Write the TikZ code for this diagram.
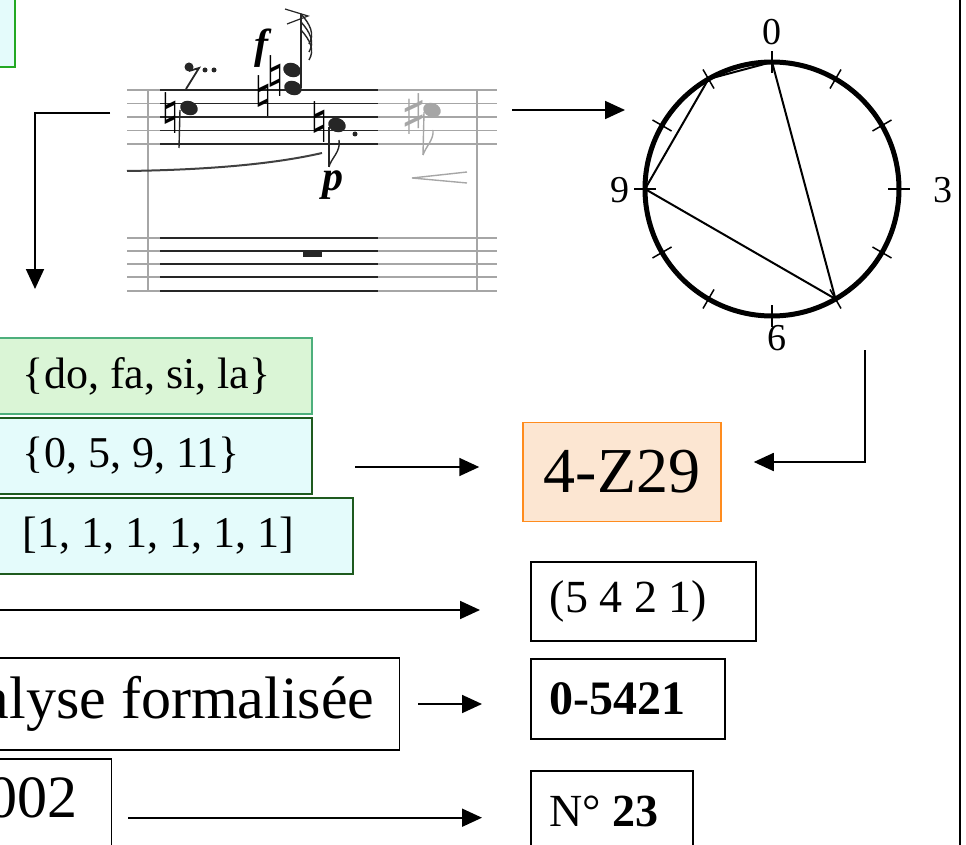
\documentclass[tikz,border=0pt]{standalone}
\usepackage{fontspec}
\setmainfont{Liberation Serif}
\newfontfamily\musicfont{DejaVu Sans}
\usetikzlibrary{arrows.meta,positioning}

\definecolor{cyanfill}{HTML}{E4FBFB}
\definecolor{greenfill}{HTML}{DAF5D6}
\definecolor{orangefill}{HTML}{FCE6D2}
\definecolor{darkgreen}{HTML}{1E5A1E}
\definecolor{seagreen}{HTML}{4DAF7C}
\definecolor{brightgreen}{HTML}{22A822}
\definecolor{zorange}{HTML}{FF8C1E}

\newcommand{\lefttext}[2]{\makebox[#1][l]{#2}}

\begin{document}
\begin{tikzpicture}[
    x=1pt, y=-1pt,
    box/.style={draw, rectangle, line width=1.5pt, inner ysep=0pt, font=\fontsize{44}{50}\selectfont},
    setbox/.style={box, draw=darkgreen, line width=2pt, fill=cyanfill, inner xsep=32pt, minimum height=76pt, anchor=west},
    resbox/.style={box, inner xsep=19pt, anchor=west, font=\fontsize{46}{50}\selectfont},
    arrow/.style={-{Triangle[length=20pt,width=18pt]}, line width=1.8pt},
    staff/.style={line width=1.4pt, black!35},
    ink/.style={line width=1.4pt, black!85},
    music/.style={font=\musicfont\fontsize{56}{56}\selectfont, inner sep=0pt},
    dyn/.style={font=\fontsize{42}{42}\selectfont\bfseries\itshape, inner sep=0pt},
    clklabel/.style={font=\fontsize{38}{40}\selectfont, inner sep=0pt},
]
\useasboundingbox (0,0) rectangle (966,845);
\clip (0,0) rectangle (966,845);

% corner of the box above
\draw[brightgreen, line width=2.5pt, fill=cyanfill] (-20,-20) rectangle (15,67);

% score excerpt
\foreach \y in {90,103.5,117,130.5,144,238,251,264,277,291} {
  \draw[staff] (127,\y) -- (497,\y);
  \draw[ink] (160,\y) -- (378,\y);
}
\draw[staff] (148,90) -- (148,291);
\draw[staff] (477,90) -- (477,291);
\draw[line width=2pt, black!75] (127,171) .. controls (200,170) and (270,165) .. (322,153);
% first note
\node[music] (nat1) at (171,113) {♮};
\fill[black!85] (189,108) ellipse [x radius=9, y radius=7, rotate=-20];
\draw[ink] (180,110) -- (179,148);
\fill[black!85] (189,67) circle (4.5);
\draw[ink, line width=1.8pt] (189,71) -- (199,68) -- (186,89);
\fill[black!85] (205,70) circle (2.5) (214,70) circle (2.5);
% chord
\node[dyn] (forte) at (261,48) {f};
\node[music] (nat2) at (264,96) {♮};
\node[music] (nat3) at (276,76) {♮};
\fill[black!85] (292,70) ellipse [x radius=9, y radius=7, rotate=-20];
\fill[black!85] (293,88) ellipse [x radius=9, y radius=7, rotate=-20];
\draw[ink] (301,88) -- (301,14);
\foreach \d in {0,8,16} {
  \draw[ink] (301,14+\d) .. controls (310,24+\d) and (315,34+\d) .. (309,44+\d);
}
\draw[ink, line width=1.2pt] (285,9) -- (308,16) -- (287,24);
% third note
\node[music] (nat4) at (320,122) {♮};
\fill[black!85] (337,125) ellipse [x radius=9, y radius=7, rotate=-20];
\fill[black!85] (355,134) circle (2.5);
\draw[ink] (329,127) -- (329,167);
\draw[ink] (329,167) .. controls (331,158) and (341,152) .. (339,140);
\node[dyn] (piano) at (333,185) {p};
% grey note
\node[music, black!35] (sharp) at (414,114) {♯};
\fill[black!35] (432,110) ellipse [x radius=9, y radius=7, rotate=-20];
\draw[staff] (424,112) -- (423,155);
\draw[staff] (423,155) .. controls (426,146) and (434,140) .. (433,130);
\draw[staff] (467,172) -- (412,178) -- (467,183);
\fill[black!85] (303,251) rectangle (322,257);
\coordinate (scoreW) at (110,113);
\coordinate (scoreE) at (512,110);

% pitch-class clock
\coordinate (clk) at (772,189);
\draw[line width=5pt] (clk) circle (127);
\foreach \a in {-90,-60,...,240} {
  \draw[line width=1.5pt] (clk) ++(\a:116) -- ++(\a:22);
}
\path (clk) ++(-90:127) coordinate (p0);
\path (clk) ++(60:127) coordinate (p5);
\path (clk) ++(180:127) coordinate (p9);
\path (clk) ++(240:127) coordinate (p11);
\draw[line width=2pt] (p0) -- (p11) -- (p9) -- (p5) -- cycle;
\node[clklabel] (lab0) at (772,32) {0};
\node[clklabel] (lab3) at (943,190) {3};
\node[clklabel] (lab6) at (777,338) {6};
\node[clklabel] (lab9) at (620,190) {9};
\coordinate (clkin) at (625,110);
\coordinate (clkout) at (865,350);

% sets
\node[setbox, draw=seagreen, fill=greenfill] (dodo) at (-10,376) {\lefttext{257pt}{\{do, fa, si, la\}}};
\node[setbox] (nums) at (-10,456) {\lefttext{257pt}{\{0, 5, 9, 11\}}};
\node[setbox] (ints) at (-10,536) {\lefttext{298pt}{[1, 1, 1, 1, 1, 1]}};

% results
\node[box, draw=zorange, fill=orangefill, inner sep=0pt, minimum width=198pt, minimum height=99pt, font=\fontsize{64}{70}\selectfont] (zed) at (622,472) {4-Z29};
\node[resbox, minimum height=79pt] (vec) at (530,601.5) {\lefttext{187pt}{(5 4 2 1)}};
\node[resbox, minimum height=80pt, font=\fontsize{48}{50}\selectfont\bfseries] (code) at (530,699) {\lefttext{156pt}{0-5421}};
\node[resbox, minimum height=80pt] (num) at (530,811) {\lefttext{124pt}{N° \textbf{23}}};

% sources below
\node[box, anchor=east, inner xsep=25pt, minimum height=92pt, font=\fontsize{60}{66}\selectfont] (formal) at (400,704) {alyse formalisée};
\node[box, anchor=north east, inner xsep=34pt, inner ysep=19pt, text depth=40pt, font=\fontsize{60}{66}\selectfont] (year) at (112,758) {002};

% frame edge
\draw[line width=1.5pt] (960,0) -- (960,845);

% connectors
\coordinate (zedin) at ([yshift=5pt]zed.west);
\coordinate (vecin) at (-5,610);
\draw[arrow] (scoreW) -| ([xshift=45pt, yshift=48pt]dodo.north west);
\draw[arrow] (scoreE) -- (clkin);
\draw[arrow, shorten >=32pt] (clkout) |- ([yshift=10pt]zed.east);
\draw[arrow, shorten <=42pt, shorten >=43pt] (nums.east |- zedin) -- (zedin);
\draw[arrow, shorten >=50pt] (vecin) -- (vecin -| vec.west);
\draw[arrow, shorten <=18pt, shorten >=48pt] (formal.east) -- (formal.east -| code.west);
\draw[arrow, shorten <=16pt, shorten >=48pt] (year.east) -- (year.east -| num.west);

\end{tikzpicture}
\end{document}
